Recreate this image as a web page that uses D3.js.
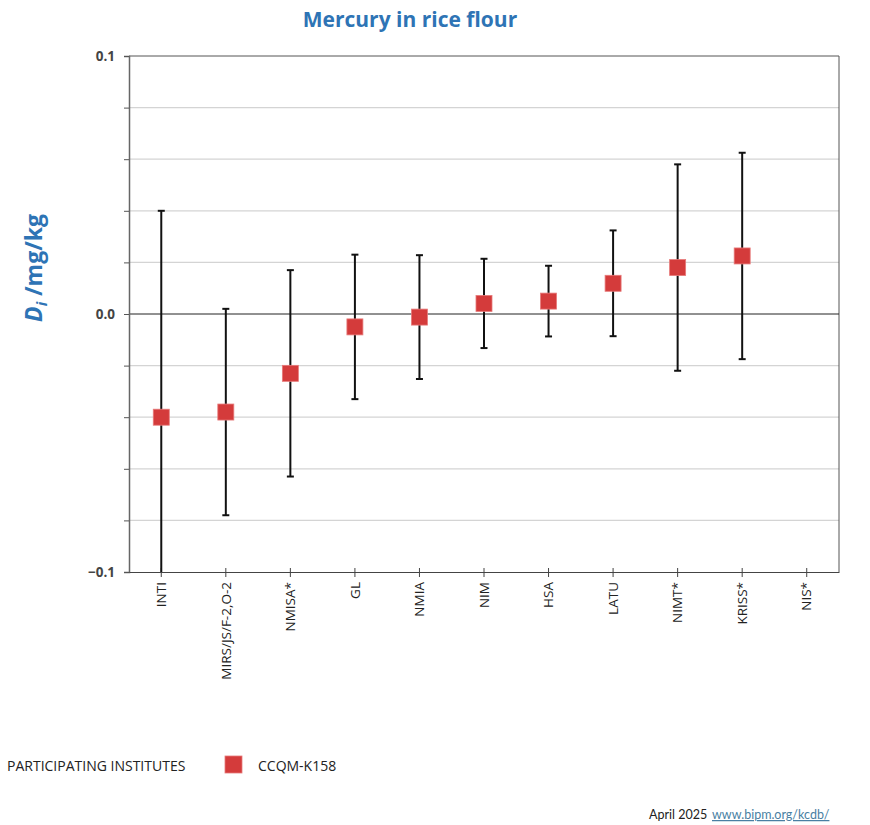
<!DOCTYPE html>
<html>
<head>
<meta charset="utf-8">
<script src="https://cdn.jsdelivr.net/npm/d3@7"></script>
<style>
  body { margin: 0; background: #fff; }
  text { font-family: "Open Sans", sans-serif; }
</style>
</head>
<body>
<div id="chart"></div>
<script>
// institutes on the x axis, in drawing order
let institutes = ["INTI", "MIRS/JS/F-2,O-2", "NMISA*", "GL", "NMIA", "NIM", "HSA", "LATU", "NIMT*", "KRISS*", "NIS*"];
// degree of equivalence and its expanded uncertainty (null = no result)
let diValues = [-0.040, -0.038, -0.023, -0.005, -0.0012, 0.0041, 0.005, 0.0119, 0.018, 0.0225, null];
let uValues = [0.080, 0.040, 0.040, 0.028, 0.024, 0.0173, 0.0137, 0.0205, 0.040, 0.040, null];
let yTickValues = [-0.1, 0.0, 0.1];
let yGridValues = [-0.08, -0.06, -0.04, -0.02, 0.02, 0.04, 0.06, 0.08];

let width = 870, height = 825;
let margin = {top: 56, right: 31, bottom: 253, left: 129};

let svg = d3.select("#chart").append("svg")
    .attr("width", width)
    .attr("height", height);

let xscale = d3.scaleBand()
    .domain(institutes)
    .range([margin.left, width - margin.right]);
let yscale = d3.scaleLinear()
    .domain([-0.1, 0.1])
    .range([height - margin.bottom, margin.top]);

// title
svg.append("text")
    .attr("x", 410).attr("y", 27)
    .attr("text-anchor", "middle")
    .style("font-size", "21px").style("font-weight", "bold")
    .style("fill", "#2e74b5")
    .text("Mercury in rice flour");

// grid
svg.append("g").selectAll("line").data(yGridValues).enter().append("line")
    .attr("x1", margin.left).attr("x2", width - margin.right)
    .attr("y1", d => yscale(d)).attr("y2", d => yscale(d))
    .style("stroke", "#d4d4d4").style("stroke-width", 1.3);

// top and right border
svg.append("line")
    .attr("x1", margin.left).attr("x2", width - margin.right)
    .attr("y1", yscale(0.1)).attr("y2", yscale(0.1))
    .style("stroke", "#555").style("stroke-width", 1);
svg.append("line")
    .attr("x1", width - margin.right).attr("x2", width - margin.right)
    .attr("y1", yscale(0.1)).attr("y2", yscale(-0.1))
    .style("stroke", "#555").style("stroke-width", 1);

// zero line
svg.append("line")
    .attr("x1", margin.left).attr("x2", width - margin.right)
    .attr("y1", yscale(0)).attr("y2", yscale(0))
    .style("stroke", "#222").style("stroke-width", 1);

// y axis
let yaxis = d3.axisLeft(yscale)
    .tickValues(yTickValues.concat(yGridValues))
    .tickSize(5)
    .tickFormat(d => yTickValues.includes(d) ? d3.format(".1f")(d) : "");
let yaxisSel = svg.append("g")
    .attr("transform", `translate(${margin.left},0)`)
    .call(yaxis);
yaxisSel.select(".domain").style("stroke", "#666").style("stroke-width", 1.5);
yaxisSel.selectAll(".tick line").style("stroke", "#555");
yaxisSel.selectAll(".tick text")
    .attr("x", -14)
    .style("font-size", "13.5px").style("font-weight", "bold")
    .style("fill", "#444");

// x axis
let xaxis = d3.axisBottom(xscale).tickSizeInner(4).tickSizeOuter(0);
let xaxisSel = svg.append("g")
    .attr("transform", `translate(0,${yscale(-0.1)})`)
    .call(xaxis);
xaxisSel.select(".domain").style("stroke", "#444");
xaxisSel.selectAll(".tick line").attr("y1", -4).attr("y2", 5).style("stroke", "#444");
xaxisSel.selectAll(".tick text")
    .attr("transform", "rotate(-90)")
    .attr("x", -10).attr("y", 0).attr("dy", "0.35em")
    .style("text-anchor", "end")
    .style("font-size", "13.5px").style("fill", "#222");

// y axis title
let ytitle = svg.append("text")
    .attr("transform", "translate(42,268) rotate(-90)")
    .attr("text-anchor", "middle")
    .style("font-size", "23px").style("font-weight", "bold")
    .style("fill", "#2e74b5");
ytitle.append("tspan").style("font-style", "italic").text("D");
ytitle.append("tspan").style("font-style", "italic").style("font-size", "15px").attr("dy", 5).text("i");
ytitle.append("tspan").attr("dy", -5).text(" /mg/kg");

// error bars and points
let points = institutes.map((name, i) => ({name: name, di: diValues[i], u: uValues[i]}))
    .filter(d => d.di !== null);

svg.append("clipPath").attr("id", "plotclip").append("rect")
    .attr("x", margin.left).attr("y", margin.top)
    .attr("width", width - margin.left - margin.right)
    .attr("height", yscale(-0.1) - margin.top);

let bars = svg.append("g").attr("clip-path", "url(#plotclip)");
let cx = d => xscale(d.name) + xscale.bandwidth() / 2;

bars.selectAll(".stem").data(points).enter().append("line")
    .attr("x1", cx).attr("x2", cx)
    .attr("y1", d => yscale(d.di + d.u)).attr("y2", d => yscale(d.di - d.u))
    .style("stroke", "#111").style("stroke-width", 2);
bars.selectAll(".capTop").data(points).enter().append("line")
    .attr("x1", d => cx(d) - 3.5).attr("x2", d => cx(d) + 3.5)
    .attr("y1", d => yscale(d.di + d.u)).attr("y2", d => yscale(d.di + d.u))
    .style("stroke", "#111").style("stroke-width", 2);
bars.selectAll(".capBot").data(points).enter().append("line")
    .attr("x1", d => cx(d) - 3.5).attr("x2", d => cx(d) + 3.5)
    .attr("y1", d => yscale(d.di - d.u)).attr("y2", d => yscale(d.di - d.u))
    .style("stroke", "#111").style("stroke-width", 2);

svg.append("g").selectAll("rect").data(points).enter().append("rect")
    .attr("x", d => cx(d) - 8).attr("y", d => yscale(d.di) - 8)
    .attr("width", 16).attr("height", 16)
    .style("fill", "#d43b3b").style("stroke", "#e77a7a").style("stroke-width", 0.8);

// legend
svg.append("text")
    .attr("x", 7).attr("y", 771)
    .style("font-size", "14px").style("fill", "#222")
    .text("PARTICIPATING INSTITUTES");
svg.append("rect")
    .attr("x", 225).attr("y", 756).attr("width", 17).attr("height", 17)
    .style("fill", "#d43b3b").style("stroke", "#e77a7a").style("stroke-width", 0.8);
svg.append("text")
    .attr("x", 258).attr("y", 771)
    .style("font-size", "14px").style("fill", "#222")
    .text("CCQM-K158");

// footer
svg.append("text")
    .attr("x", 649).attr("y", 819)
    .style("font-family", "Lato, sans-serif")
    .style("font-size", "12.5px").style("fill", "#222")
    .text("April 2025");
svg.append("text")
    .attr("x", 712).attr("y", 819)
    .style("font-family", "Lato, sans-serif")
    .style("font-size", "12.5px").style("fill", "#4a7fa3")
    .style("text-decoration", "underline")
    .text("www.bipm.org/kcdb/");
</script>
</body>
</html>
